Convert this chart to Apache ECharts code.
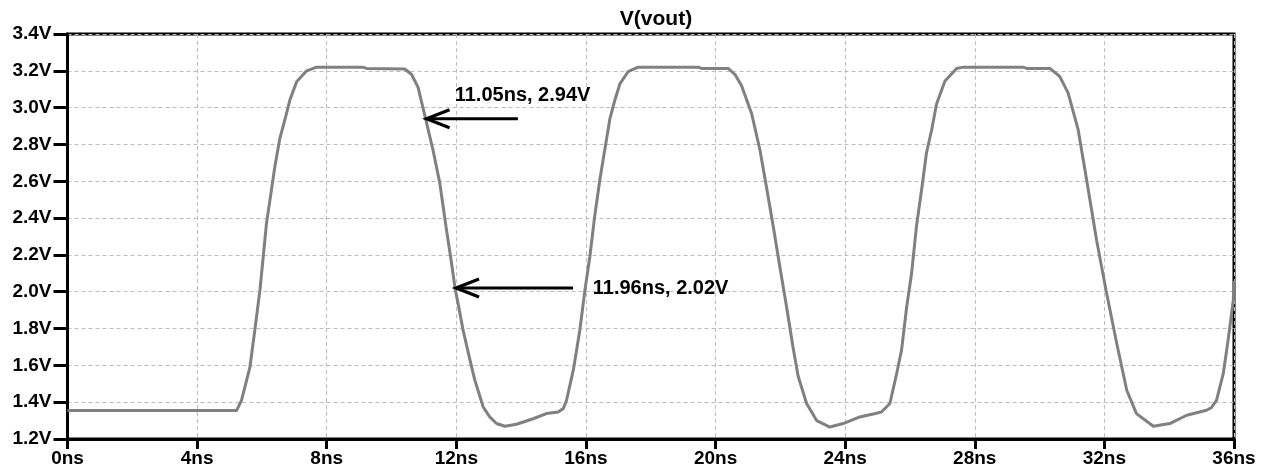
<!DOCTYPE html>
<html>
<head>
<meta charset="utf-8">
<title>V(vout)</title>
<script src="https://cdn.jsdelivr.net/npm/echarts@6/dist/echarts.min.js"></script>
<style>
  html, body { margin: 0; padding: 0; background: #fff; }
  #chart { width: 1270px; height: 474px; }
</style>
</head>
<body>
<div id="chart"></div>
<script>
// Transient output voltage V(vout): time in ns, voltage in V
const timeNs = [
  0, 5.22, 5.37, 5.63, 5.78, 5.94, 6.04, 6.14, 6.30, 6.40, 6.55, 6.74, 6.86, 7.07, 7.38, 7.69,
  9.11, 9.23, 10.41, 10.62, 10.82, 11.05, 11.28, 11.49, 11.68, 11.84, 11.96, 12.06, 12.21, 12.42,
  12.57, 12.83, 13.03, 13.24, 13.50, 13.86, 14.37, 14.78, 15.14, 15.30, 15.40, 15.61, 15.81, 15.97,
  16.12, 16.27, 16.43, 16.58, 16.74, 16.89, 17.05, 17.30, 17.61, 19.46, 19.57, 20.39, 20.60, 20.80,
  21.11, 21.37, 21.57, 21.78, 21.98, 22.19, 22.39, 22.55, 22.81, 23.12, 23.53, 23.94, 24.45, 24.90,
  25.12, 25.38, 25.59, 25.74, 25.90, 26.05, 26.20, 26.36, 26.51, 26.67, 26.82, 27.08, 27.44, 27.64,
  29.49, 29.60, 30.32, 30.62, 30.88, 31.19, 31.45, 31.76, 32.07, 32.38, 32.69, 32.99, 33.51, 34.02,
  34.54, 35.15, 35.30, 35.46, 35.67, 35.82, 35.98, 36.0
];
const voutV = [
  1.355, 1.355, 1.41, 1.59, 1.79, 2.01, 2.19, 2.37, 2.56, 2.68, 2.83, 2.955, 3.04, 3.14, 3.20, 3.22,
  3.22, 3.213, 3.21, 3.18, 3.11, 2.94, 2.77, 2.59, 2.355, 2.17, 2.02, 1.93, 1.79, 1.63,
  1.52, 1.374, 1.32, 1.284, 1.269, 1.28, 1.31, 1.338, 1.347, 1.365, 1.41, 1.574, 1.79, 2.01,
  2.19, 2.41, 2.61, 2.77, 2.94, 3.04, 3.13, 3.195, 3.22, 3.22, 3.213, 3.213, 3.18, 3.12,
  2.97, 2.77, 2.57, 2.355, 2.14, 1.92, 1.70, 1.54, 1.393, 1.30, 1.265, 1.284, 1.32, 1.337,
  1.347, 1.393, 1.556, 1.683, 1.92, 2.10, 2.355, 2.555, 2.755, 2.88, 3.02, 3.145, 3.213, 3.22,
  3.22, 3.213, 3.213, 3.17, 3.08, 2.88, 2.61, 2.28, 1.99, 1.72, 1.465, 1.338, 1.269, 1.284,
  1.329, 1.356, 1.37, 1.41, 1.556, 1.74, 1.956, 2.06
];

// Axis ticks
const timeTicksNs = [0, 4, 8, 12, 16, 20, 24, 28, 32, 36];
const voltTicks = [1.2, 1.4, 1.6, 1.8, 2.0, 2.2, 2.4, 2.6, 2.8, 3.0, 3.2, 3.4];

// Cursor read-outs: arrow tip on the trace, arrow tail time, label anchor
const cursorTimes = [11.05, 11.96];
const cursorVolts = [2.94, 2.02];
const arrowTailTimes = [13.90, 15.60];
const labelTimes = [11.95, 16.21];
const labelVolts = [3.067, 2.02];
const cursorLabels = ['11.05ns, 2.94V', '11.96ns, 2.02V'];

const FONT = 'Liberation Sans, Arial, sans-serif';

const chart = echarts.init(document.getElementById('chart'), null, { renderer: 'canvas' });

const trace = timeNs.map((t, i) => [t, voutV[i]]);
const cursors = cursorTimes.map((t, i) => [t, cursorVolts[i], arrowTailTimes[i], labelTimes[i], labelVolts[i]]);

const gridDash = { color: '#bdbdbd', width: 1, type: [4, 3] };

chart.setOption({
  animation: false,
  backgroundColor: '#ffffff',
  title: {
    text: 'V(vout)',
    left: 651,
    textAlign: 'center',
    top: 4,
    textStyle: { fontFamily: FONT, fontWeight: 'bold', fontSize: 21, color: '#000' }
  },
  grid: {
    left: 67.5, right: 36, top: 34, bottom: 35,
    show: true, borderColor: '#000', borderWidth: 3, containLabel: false
  },
  xAxis: {
    type: 'value',
    min: timeTicksNs[0],
    max: timeTicksNs[timeTicksNs.length - 1],
    interval: timeTicksNs[1] - timeTicksNs[0],
    axisLine: { show: true, onZero: false, lineStyle: { color: '#000', width: 3 } },
    axisTick: { show: true, length: 10, lineStyle: { color: '#000', width: 3 } },
    axisLabel: {
      margin: 10,
      fontFamily: FONT, fontWeight: 'bold', fontSize: 19, color: '#000',
      formatter: v => Math.round(v) + 'ns'
    },
    splitLine: { show: true, lineStyle: gridDash }
  },
  yAxis: {
    type: 'value',
    min: voltTicks[0],
    max: voltTicks[voltTicks.length - 1],
    interval: 0.2,
    axisLine: { show: true, onZero: false, lineStyle: { color: '#000', width: 3 } },
    axisTick: { show: true, length: 14, lineStyle: { color: '#000', width: 3 } },
    axisLabel: {
      margin: 16,
      fontFamily: FONT, fontWeight: 'bold', fontSize: 19, color: '#000',
      formatter: v => v.toFixed(1) + 'V'
    },
    splitLine: { show: true, lineStyle: gridDash }
  },
  series: [
    {
      name: 'V(vout)',
      type: 'line',
      data: trace,
      showSymbol: false,
      symbol: 'none',
      clip: false,
      lineStyle: { color: '#808080', width: 3, join: 'round' },
      z: 3
    },
    {
      name: 'cursors',
      type: 'custom',
      data: cursors,
      clip: false,
      z: 5,
      renderItem: (params, api) => {
        const i = params.dataIndex;
        const tip = api.coord([api.value(0), api.value(1)]);
        const tail = api.coord([api.value(2), api.value(1)]);
        const lab = api.coord([api.value(3), api.value(4)]);
        return {
          type: 'group',
          children: [
            {
              type: 'line',
              shape: { x1: tail[0], y1: tail[1], x2: tip[0] + 1, y2: tip[1] },
              style: { stroke: '#000', lineWidth: 3 }
            },
            {
              type: 'polyline',
              shape: { points: [[tip[0] + 24, tip[1] - 9], [tip[0] + 1, tip[1]], [tip[0] + 24, tip[1] + 9]] },
              style: { stroke: '#000', fill: null, lineWidth: 3.2, lineJoin: 'miter' }
            },
            {
              type: 'text',
              x: lab[0],
              y: lab[1],
              style: {
                text: cursorLabels[i],
                fill: '#000',
                fontFamily: FONT, fontWeight: 'bold', fontSize: 20,
                align: 'left', verticalAlign: 'middle'
              }
            }
          ]
        };
      }
    }
  ]
});
</script>
</body>
</html>
